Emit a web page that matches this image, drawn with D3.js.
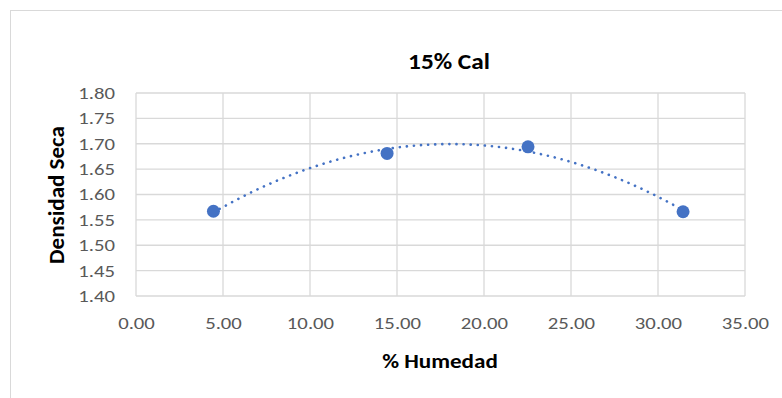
<!DOCTYPE html>
<html>
<head>
<script src="https://d3js.org/d3.v7.min.js"></script>
<style>
  body { margin: 0; background: #fff; }
  text { font-family: Carlito, "Liberation Sans Narrow", Lato, "Open Sans", sans-serif; }
</style>
</head>
<body>
<svg class="target" width="782" height="398"></svg>
<script>

// measured points (% humedad, densidad seca)
humedad = [4.45, 14.43, 22.53, 31.44]
densidad = [1.567, 1.681, 1.694, 1.566]

xTicks = [0, 5, 10, 15, 20, 25, 30, 35]
yTicks = [1.40, 1.45, 1.50, 1.55, 1.60, 1.65, 1.70, 1.75, 1.80]

title = '15% Cal'
xTitle = '% Humedad'
yTitle = 'Densidad Seca'

const svg = d3.select('.target')
const blue = '#4472C4'

xScale = d3.scaleLinear([0, 35], [136, 745])
yScale = d3.scaleLinear([1.40, 1.80], [296, 93])

// the original text is a bit wider than our fallback font, stretch it around its anchor
const stretch = (sel, s) => sel.attr('transform', function () {
  const ax = +d3.select(this).attr('x') || 0
  return `translate(${ax},0) scale(${s},1) translate(${-ax},0)`
})

// chart frame
svg.append('rect')
    .attr('x', 10.5).attr('y', 10.5)
    .attr('width', 800).attr('height', 420)
    .style('fill', 'none')
    .style('stroke', '#d9d9d9')

// gridlines
svg.append('g')
  .selectAll('line')
  .data(yTicks)
  .join('line')
    .attr('x1', xScale(0)).attr('x2', xScale(35))
    .attr('y1', d => yScale(d)).attr('y2', d => yScale(d))
    .style('stroke', '#d9d9d9').style('stroke-width', 1.3)

svg.append('g')
  .selectAll('line')
  .data(xTicks)
  .join('line')
    .attr('y1', yScale(1.40)).attr('y2', yScale(1.80))
    .attr('x1', d => xScale(d)).attr('x2', d => xScale(d))
    .style('stroke', '#d9d9d9').style('stroke-width', 1.3)

// axes (labels only)
xAxis = d3.axisBottom(xScale).tickValues(xTicks).tickFormat(d3.format('.2f')).tickSize(0).tickPadding(21)
yAxis = d3.axisLeft(yScale).tickValues(yTicks).tickFormat(d3.format('.2f')).tickSize(0).tickPadding(21)

const tickStyle = g => g.selectAll('text')
    .style('font-size', '17px').style('fill', '#595959')
    .style('font-family', 'Carlito, "Liberation Sans Narrow", Lato, "Open Sans", sans-serif')
    .call(stretch, 1.22)

svg.append('g')
    .attr('transform', `translate(0,${yScale(1.40)})`)
    .call(xAxis)
    .call(g => g.select('.domain').remove())
    .call(tickStyle)

svg.append('g')
    .attr('transform', `translate(${xScale(0)},0)`)
    .call(yAxis)
    .call(g => g.select('.domain').remove())
    .call(tickStyle)

// 2nd order polynomial trendline (least squares)
function polyfit2(xs, ys) {
  let s = [0, 0, 0, 0, 0], t = [0, 0, 0]
  xs.forEach((x, i) => {
    for (let k = 0; k < 5; k++) s[k] += Math.pow(x, k)
    for (let k = 0; k < 3; k++) t[k] += ys[i] * Math.pow(x, k)
  })
  const A = [[s[0], s[1], s[2], t[0]], [s[1], s[2], s[3], t[1]], [s[2], s[3], s[4], t[2]]]
  for (let i = 0; i < 3; i++) {
    for (let j = i + 1; j < 3; j++) {
      const f = A[j][i] / A[i][i]
      for (let k = i; k < 4; k++) A[j][k] -= f * A[i][k]
    }
  }
  const c = [0, 0, 0]
  for (let i = 2; i >= 0; i--) {
    let v = A[i][3]
    for (let k = i + 1; k < 3; k++) v -= A[i][k] * c[k]
    c[i] = v / A[i][i]
  }
  return c
}
const c = polyfit2(humedad, densidad)
const xs = d3.range(humedad[0], humedad[3] + 0.01, 0.2)

svg.append('path')
    .datum(xs)
    .attr('d', d3.line(d => xScale(d), d => yScale(c[0] + c[1] * d + c[2] * d * d)))
    .style('fill', 'none')
    .style('stroke', blue)
    .style('stroke-width', 2.6)
    .style('stroke-linecap', 'round')
    .style('stroke-dasharray', '0.1 7')

// points
svg.append('g')
  .selectAll('circle')
  .data(humedad)
  .join('circle')
    .attr('cx', d => xScale(d))
    .attr('cy', (d, i) => yScale(densidad[i]))
    .attr('r', 6.5)
    .style('fill', blue)

// titles
svg.append('text')
    .attr('x', 449).attr('y', 69)
    .attr('text-anchor', 'middle')
    .style('font-size', '22px').style('font-weight', 'bold').style('fill', '#000')
    .text(title)
    .call(stretch, 1.15)

svg.append('text')
    .attr('x', 440).attr('y', 368)
    .attr('text-anchor', 'middle')
    .style('font-size', '21px').style('font-weight', 'bold').style('fill', '#000')
    .text(xTitle)
    .call(stretch, 1.1)

svg.append('text')
    .attr('transform', 'translate(64,195) rotate(-90)')
    .attr('text-anchor', 'middle')
    .style('font-size', '23px').style('font-weight', 'bold').style('fill', '#000')
    .text(yTitle)

</script>
</body>
</html>
